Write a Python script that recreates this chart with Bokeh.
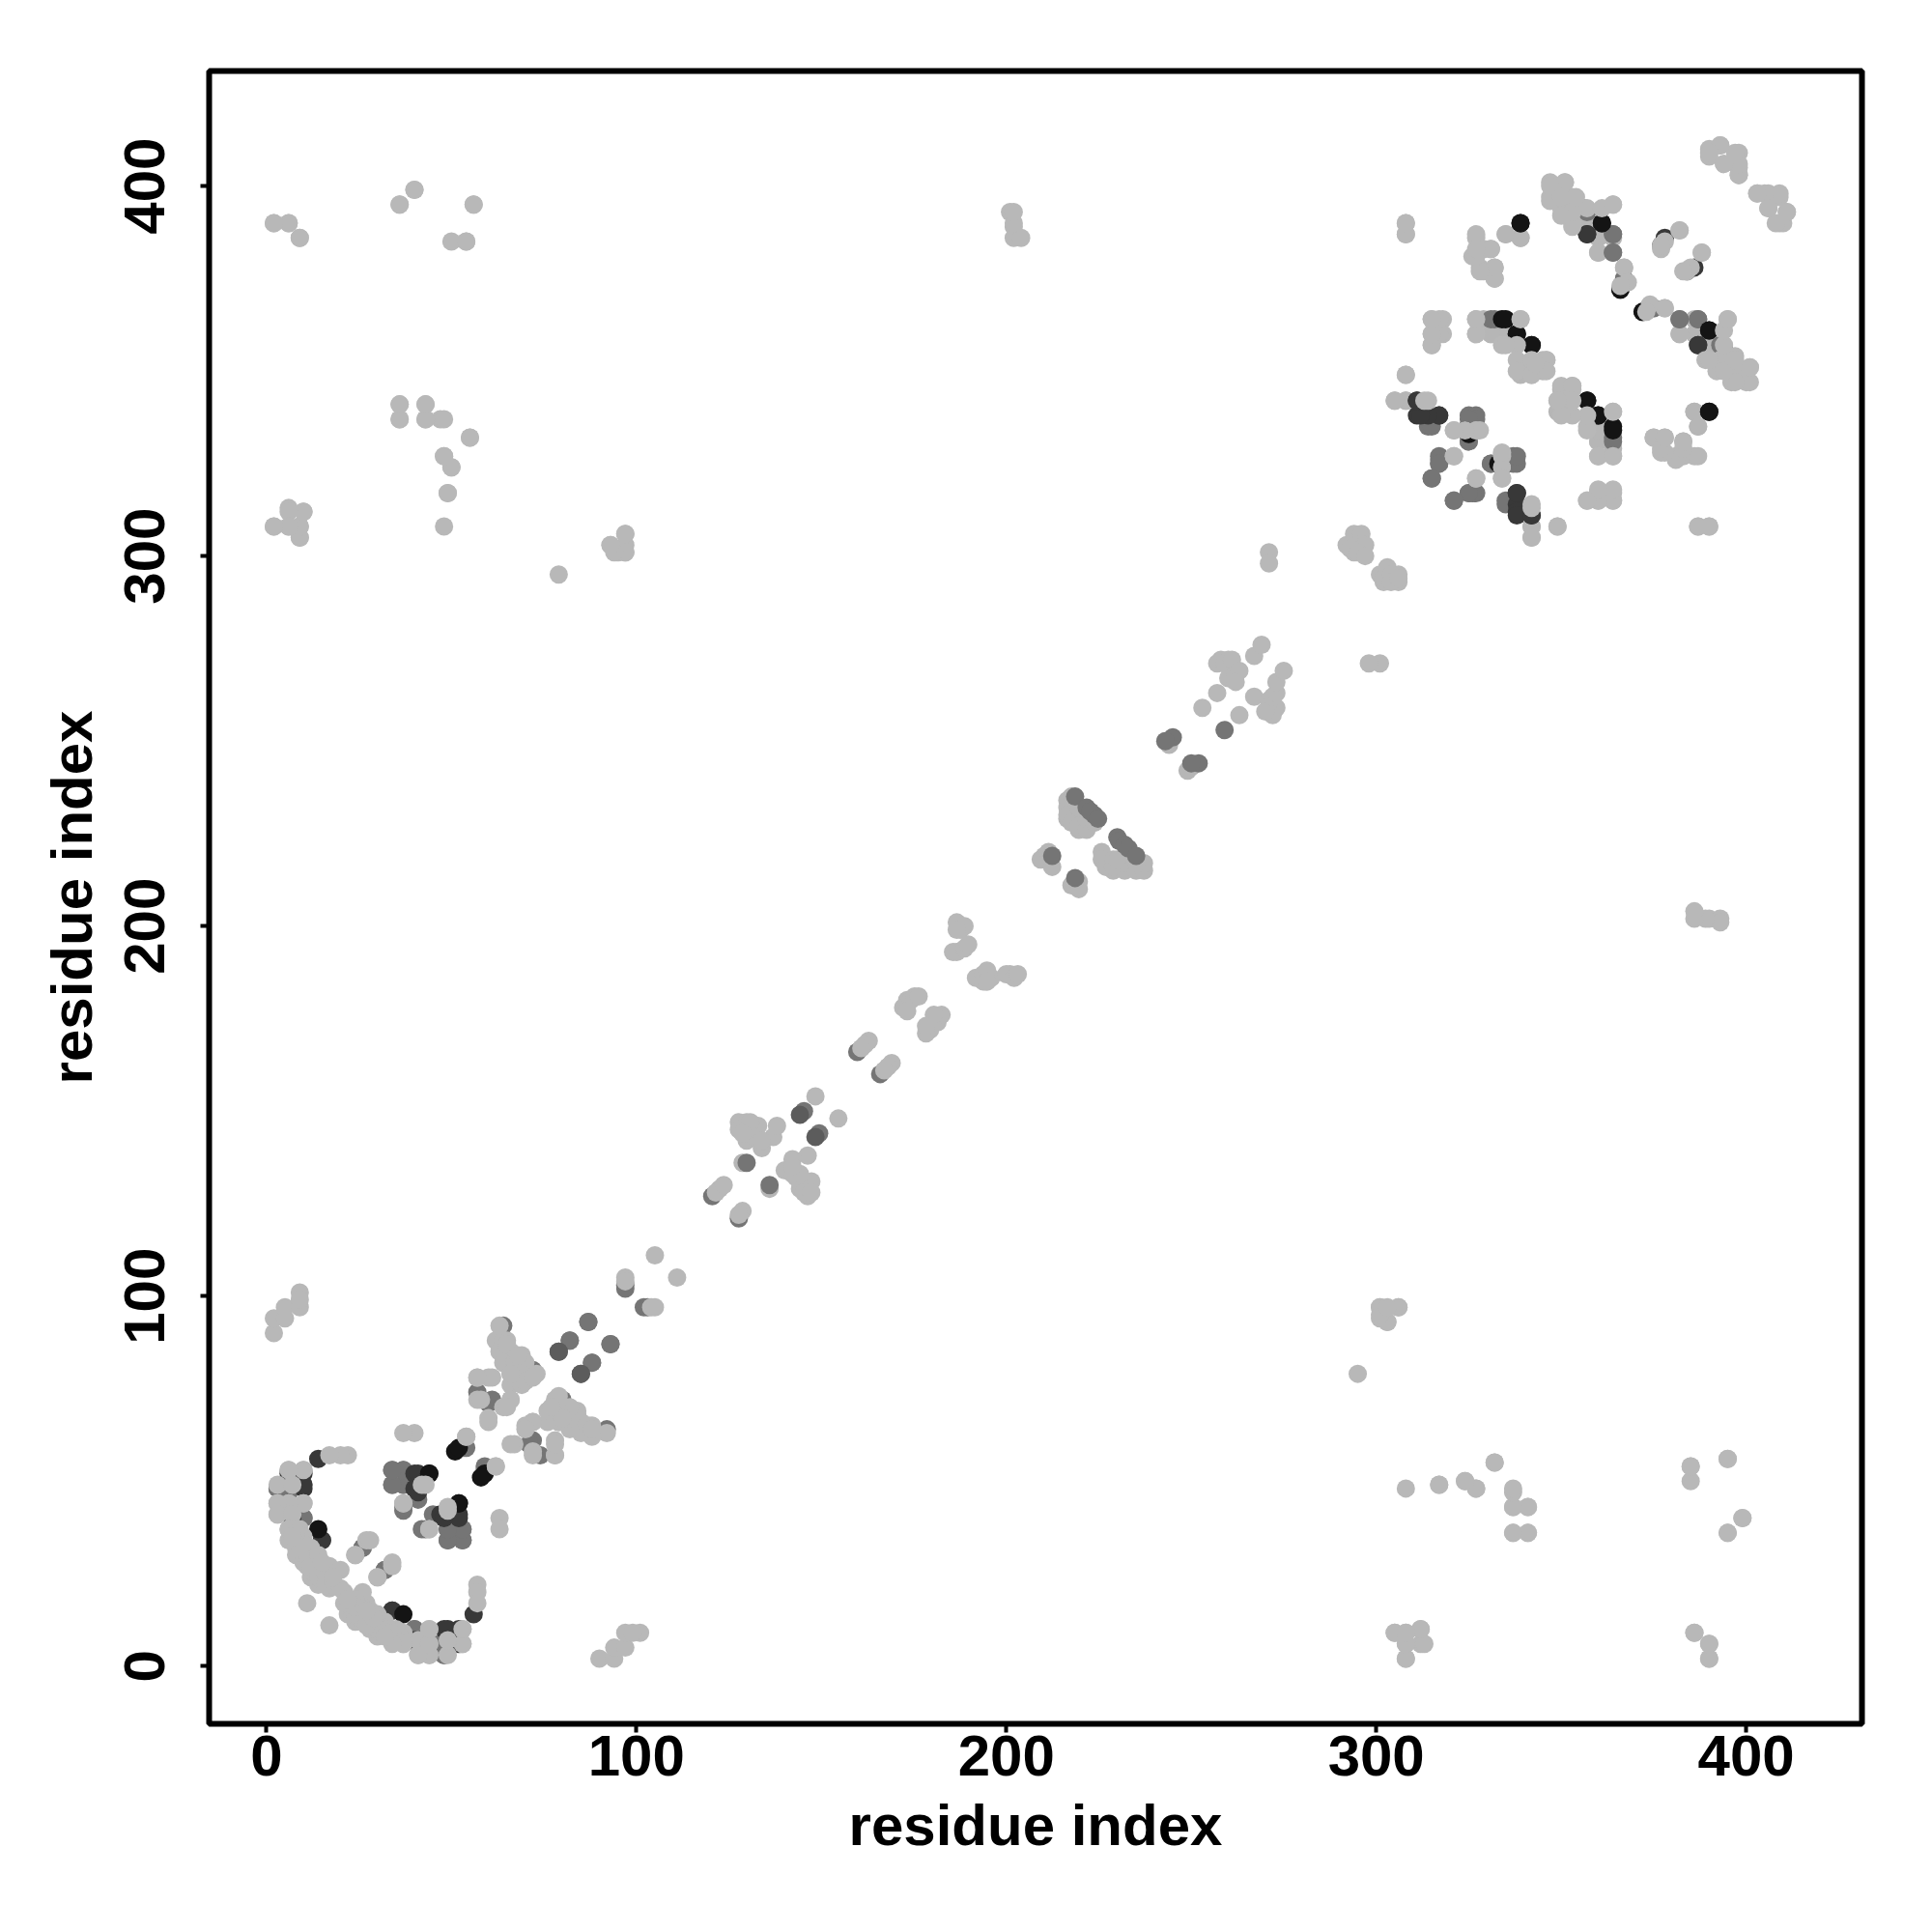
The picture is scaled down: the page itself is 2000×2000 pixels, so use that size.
from bokeh.plotting import figure
from bokeh.embed import file_html
from bokeh.resources import INLINE
from bokeh.models import Range1d, FixedTicker

tick_values = [0, 100, 200, 300, 400]
x_label = "residue index"
y_label = "residue index"

# contact pairs shown on both sides of the diagonal
back_pairs = [(49,10),(53,10),(6,53),(339,386),(335,387),(386,339),(387,335),(327,334),(334,364),(327,364),(329,364),
 (331,360),(327,360),(339,364),(334,360),(305,342),(308,342),(342,308),(342,305),(364,335),(360,335),(360,331),
 (386,360),(382,360),(390,357),(386,364),(395,364),(357,390),(360,387),(360,382),(378,367),(375,367),(350,345),
 (349,342),(353,346),(352,339),(349,339)]

grey_pairs = [(40,10),(47,6),(48,3),(34,53),(37,53),(34,49),(37,49),(37,42),(49,37),(53,37),(49,34),(53,34),(43,37),
 (26,32),(32,26),(53,59),(59,54),(45,41),(6,47),(10,40),(3,48),(60,71),(72,61),(74,57),(80,72),(64,92),
 (87,93),(82,88),(93,87),(88,82),(97,103),(102,97),
 (356,394),(364,387),(364,382),(382,364),(387,364),(393,357),(375,367),(331,364),(314,335),(325,338),(327,338),
 (325,331),(317,326),(317,325),(315,321),(331,325),(337,327),(337,325),(327,317),(325,317),(321,315),(335,315),
 (364,332),(324,334)]

dark_pairs = [(56,14),(34,15),(52,10),(49,10),(40,7),(40,52),(40,48),(52,41),(47,41),(15,34),(10,48),(6,52),(6,41),
 (357,387),(338,317),(338,314),(338,312),(342,311),(311,338),(317,338),
 (311,342),(387,357),(377,384),(386,378),(366,372)]

black_pairs = [(37,14),(44,52),(52,44),(51,58),(59,52),(339,390),(361,390),(372,366),(390,361),(390,339),(334,364),
 (338,360),(342,357),(357,342),(360,338),(364,335),(333,325),(324,334)]

mid_dark_pairs = [(79,85),(85,79)]

light_pairs = [(57,22),(57,20),(57,17),(53,6),(49,3),(49,7),(44,10),(44,6),(44,3),(41,3),(41,7),(37,6),(37,9),
 (35,10),(34,8),(32,12),(30,11),(29,14),(27,12),(27,17),(26,20),(24,14),(22,16),(25,16),(23,18),(21,20),(17,11),
 (30,14),(33,10),(36,8),(28,15),(24,18),(32,9),(35,7),(8,30),(10,28),(12,24),(14,22),(9,33),(12,28),(15,23),(17,21),(13,25),
 (6,37),(6,34),(10,30),(12,26),(14,24),(16,24),(8,32),(11,27),(13,29),(15,27),(18,22),(10,53),(3,44),(3,41),(6,44),(10,44),
 (43,49),(37,44),(49,42),(44,37),(27,34),(24,30),(34,28),(30,24),(54,62),(62,54),(40,63),(37,63),
 (62,88),(65,88),(63,85),(66,85),(69,84),(64,82),(67,82),(70,82),(66,79),(69,79),(66,76),(69,76),
 (64,88),(67,80),(73,79),(70,77),(57,78),(60,78),(57,72),(66,72),(64,70),(60,66),
 (92,63),(87,65),(84,68),(79,66),(78,72),(78,61),(78,57),(72,58),(72,66),(70,65),(67,60),
 (97,105),(104,97),(2,90),(2,94),(5,94),(5,97),(9,97),(9,101),(9,99),
 (2,390),(6,390),(9,386),(36,395),(40,399),(56,395),(50,385),(54,385),(36,341),(36,337),(43,341),(43,337),(47,337),
 (48,337),(55,332),(48,327),(50,324),(49,317),(48,308),(2,308),(6,313),(6,308),(10,312),(9,305),(9,308),
 (79,295),(97,306),(97,301),(93,303),(95,301),(97,303),(201,393),(202,389),(202,386),(204,386),(390,202),(393,202),
 (301,97),(306,97),(301,94),(303,93),(317,49),(324,50),(327,48),(332,55),(337,43),(341,43),(337,36),(341,36),
 (385,54),(395,56),(395,36),(399,40),(305,9),(308,9),(312,10),(312,6),(308,6),(308,2),(386,9),(390,6),(390,2),
 (271,301),(271,298),
 (390,410),(393,411),(398,409),(398,405),(398,403),(390,408),(394,406),(403,398),(406,398),(409,397),(411,393),
 (409,390),(406,394),(308,390),(308,387),(327,387),(326,381),(329,383),(331,383),(328,378),(332,375),(329,377),(332,378),
 (347,401),(351,401),(347,397),(350,394),(353,397),(353,390),(357,394),(361,394),(364,395),(367,378),(368,374),(366,373),
 (382,388),(378,385),(377,383),(388,382),(384,377),(389,353),(393,353),(397,354),(401,351),(392,350),(396,347),(400,347),(397,350),
 (375,332),(378,332),(377,328),(381,327),(383,331),(386,327),(383,327),(308,349),(314,342),(321,334),(328,334),
 (321,327),(334,327),(334,324),(334,321),(327,321),(342,313),(349,308),(357,315),(360,317),(360,315),(364,317),(364,315),
 (387,308),(390,308),(315,364),(318,364),(315,360),(318,360),(315,357),(334,357),(338,357),(338,353),(345,353),(346,353),(342,353),
 (338,350),(342,349),(364,339),(357,335),(360,327),(364,327),(350,346),(352,343)]

# contacts along the middle of the diagonal, listed on each side as read
side_back_x = [217.6, 218.6, 216.5, 219.6, 221.7, 218.6, 217.6, 223.8, 216.5, 216.5, 216.5, 217.6, 219.6, 221.7, 221.7, 219.6, 223.8,
               225.8, 225.8, 226.9, 228.9, 232, 235.1, 237.2, 237.2, 232, 228.9, 228.9, 233, 235.1, 230,
               210.3, 209.3, 211.4, 212.4, 217.6, 219.6, 219.6, 243, 244, 250, 249, 128.7, 136]
side_back_y = [235, 233, 229, 226, 228, 231, 231, 228, 234, 232, 230, 228, 227, 226, 229, 232, 228,
               220, 218, 216, 215, 215, 215, 215, 217, 217, 218, 216, 218, 217, 218,
               219, 218, 220, 216, 211, 212, 210, 250, 249, 243, 242, 136, 129]
side_grey_x = [218.6, 221.7, 223.8, 222.7, 224.8, 230, 230.5, 232, 233, 235.1, 212.4, 218.6, 245, 252, 243, 250, 259,
               145.3, 149.4, 129.8, 136, 127.7, 159.7, 165.9, 120.5]
side_grey_y = [235, 232, 230, 231, 229, 224, 223, 222, 221, 219, 219, 213, 251, 244, 250, 244, 253,
               150, 144, 136, 130, 121, 166, 160, 127]
side_dark_x = [144.2, 148.4]
side_dark_y = [149, 143]
side_light_x = [148.4, 154.6, 127.7, 129.8, 132.9, 129.8, 133.9, 137, 138, 130.8, 122.5, 121.5, 123.6, 128.7, 127.7, 146.3, 142.2, 140.1, 143.2, 146.3, 146.3, 144.2,
                127.7, 130.8, 131.8, 128.7, 133.9, 142.2, 144.2, 147.3, 145.3, 147.3, 144.2, 142.2,
                162.8, 161.8, 160.8, 169, 168, 167, 173.2, 172.1, 174.2, 175.2, 176.3, 173.2, 180.4, 179.4, 178.3, 181.4, 182.5, 180.4, 178.3,
                186.6, 187.6, 188.7, 186.6, 186.6, 185.6, 188.7, 189.7, 191.8, 193.8, 193.8, 195.9, 194.8, 194.8, 201, 200, 202.1, 203.1,
                253, 257, 263, 258, 260, 257, 259, 261, 260, 262, 263, 262, 267, 269, 267, 271, 273, 272, 270, 272, 273, 273, 275,
                292, 294, 296, 296, 294, 295, 293, 297, 295, 297, 301, 303, 302, 306, 306, 302, 304, 304, 306, 105, 111]
side_light_y = [154, 148, 147, 147, 146, 142, 140, 143, 146, 144, 129, 128, 130, 123, 122, 138, 137, 134, 132, 130, 127, 129,
                145, 147, 143, 144, 142, 133, 131, 131, 128, 128, 133, 135,
                169, 168, 167, 163, 162, 161, 180, 178, 180, 181, 181, 177, 174, 172, 171, 174, 176, 176, 173,
                201, 199, 200, 199, 193, 193, 194, 195, 186, 187, 185, 186, 188, 185, 187, 187, 186, 187,
                259, 263, 257, 272, 272, 271, 271, 272, 267, 268, 269, 266, 273, 276, 262, 261, 259, 257, 258, 262, 263, 266, 269,
                303, 306, 306, 301, 301, 303, 302, 303, 301, 300, 295, 297, 293, 295, 293, 294, 295, 293, 294, 111, 105]

back_color, grey_color, mid_dark_color, dark_color, black_color, light_color = "#b6b6b6", "#757575", "#5c5c5c", "#383838", "#141414", "#b8b8b8"

p = figure(width=1992, height=1992, output_backend="svg", toolbar_location=None,
           x_range=Range1d(-15.5, 431.3), y_range=Range1d(-15.6, 431.1),
           min_border_left=216, min_border_right=65, min_border_top=73, min_border_bottom=208,
           x_axis_label=x_label, y_axis_label=y_label)

layers = [(back_pairs, side_back_x, side_back_y, back_color),
          (grey_pairs, side_grey_x, side_grey_y, grey_color),
          (mid_dark_pairs, side_dark_x, side_dark_y, mid_dark_color),
          (dark_pairs, [], [], dark_color),
          (black_pairs, [], [], black_color),
          (light_pairs, side_light_x, side_light_y, light_color)]
for pairs, sx, sy, color in layers:
    a = [q[0] for q in pairs]
    b = [q[1] for q in pairs]
    p.scatter(a + b + sx, b + a + sy, size=19, color=color, line_color=None)

p.grid.visible = False
p.outline_line_color = "black"
p.outline_line_width = 6
p.background_fill_color = "white"
p.border_fill_color = "white"

for ax in (p.xaxis[0], p.yaxis[0]):
    ax.ticker = FixedTicker(ticks=tick_values)
    ax.axis_line_color = None
    ax.major_tick_in = 0
    ax.major_tick_out = 9
    ax.major_tick_line_width = 4
    ax.major_tick_line_color = "black"
    ax.minor_tick_line_color = None
    ax.major_label_text_font = "Liberation Sans"
    ax.major_label_text_font_style = "bold"
    ax.major_label_text_font_size = "60px"
    ax.major_label_text_color = "black"
    ax.axis_label_text_font = "Liberation Sans"
    ax.axis_label_text_font_style = "bold"
    ax.axis_label_text_font_size = "60px"
    ax.axis_label_text_color = "black"
p.xaxis[0].major_label_standoff = 3
p.xaxis[0].axis_label_standoff = 15
p.yaxis[0].major_label_orientation = "vertical"
p.yaxis[0].major_label_standoff = 37
p.yaxis[0].axis_label_standoff = 19

open("out.html", "w").write(file_html(p, INLINE))
